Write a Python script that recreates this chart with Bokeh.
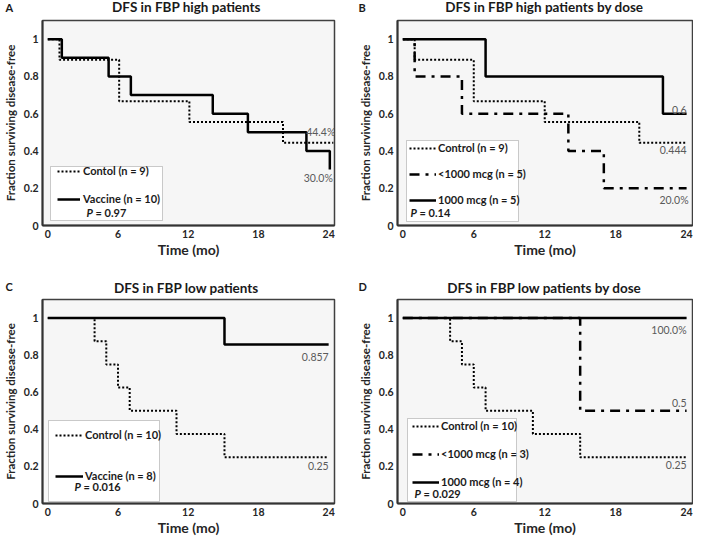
from bokeh.plotting import figure
from bokeh.models import (Range1d, FixedTicker, Label, Legend, LegendItem,
                          BoxAnnotation, CustomJSTickFormatter)
from bokeh.layouts import column, row
from bokeh.embed import file_html
from bokeh.resources import INLINE

FONT = "Lato"

# ---------------- data ----------------
x_ticks = [0, 6, 12, 18, 24]
y_ticks = [0, 0.2, 0.4, 0.6, 0.8, 1.0]

# Panel A: DFS in FBP high patients
A_ctrl_t = [0, 1.0, 6.1, 12.1, 20.1, 24.4]
A_ctrl_s = [1.0, 0.889, 0.667, 0.556, 0.444, 0.444]
A_vac_t = [0, 1.2, 5.2, 7.1, 14.1, 17.1, 22.1, 24.1]
A_vac_s = [1.0, 0.9, 0.8, 0.7, 0.6, 0.5, 0.4, 0.3]

# Panel B: DFS in FBP high patients by dose
B_ctrl_t = [0, 1.0, 6.0, 12.0, 20.0, 24.0]
B_ctrl_s = [1.0, 0.889, 0.667, 0.556, 0.444, 0.444]
B_low_t = [0, 1.0, 5.0, 14.0, 17.0, 24.0]
B_low_s = [1.0, 0.8, 0.6, 0.4, 0.2, 0.2]
B_high_t = [0, 7.0, 22.0, 24.0]
B_high_s = [1.0, 0.8, 0.6, 0.6]

# Panel C: DFS in FBP low patients
C_ctrl_t = [0, 4.0, 5.0, 6.0, 7.0, 11.0, 15.1, 24.0]
C_ctrl_s = [1.0, 0.875, 0.75, 0.625, 0.5, 0.375, 0.25, 0.25]
C_vac_t = [0, 15.1, 24.0]
C_vac_s = [1.0, 0.857, 0.857]

# Panel D: DFS in FBP low patients by dose
D_ctrl_t = [0, 4.0, 5.0, 6.0, 7.0, 11.0, 15.0, 24.0]
D_ctrl_s = [1.0, 0.875, 0.75, 0.625, 0.5, 0.375, 0.25, 0.25]
D_low_t = [0, 15.0, 24.0]
D_low_s = [1.0, 0.5, 0.5]
D_high_t = [0, 24.0]
D_high_s = [1.0, 1.0]

titles = ["DFS in FBP high patients", "DFS in FBP high patients by dose",
          "DFS in FBP low patients", "DFS in FBP low patients by dose"]
letters = ["A", "B", "C", "D"]

# ---------------- styles / layout ----------------
DOT = "2 2"
DASHDOT = "10 6 3 6"
BG = "#f6f6f6"
DARK = "#333333"
GRAY = "#5a5a5a"
TXT = "#1a1a1a"

COL_W = [355, 338]
MB_L = [38, 41]
MB_R = [21, 1]
FW = 296
FH = 205
HEAD_H = [19, 34]
MAIN_H = [243, 242]
MB_T = [1, 3]
MB_B = [37, 34]
TITLE_Y = [13, 9]
LETTER_Y = [12, 10]
LETTER_X = [5, 3]


def make_header(r, c):
    h = figure(width=COL_W[c], height=HEAD_H[r], title=None,
               x_range=Range1d(0, COL_W[c]), y_range=Range1d(0, HEAD_H[r]),
               output_backend="svg", toolbar_location=None,
               x_axis_type=None, y_axis_type=None,
               min_border_left=0, min_border_right=0, min_border_top=0, min_border_bottom=0)
    h.outline_line_color = None
    h.background_fill_color = "white"
    h.border_fill_color = "white"
    h.xgrid.visible = False
    h.ygrid.visible = False
    h.add_layout(Label(x=MB_L[c] + FW / 2, y=TITLE_Y[r], text=titles[2 * r + c],
                       text_font=FONT, text_font_size="13.5px", text_font_style="bold",
                       text_align="center", text_baseline="middle", text_color=TXT))
    h.add_layout(Label(x=LETTER_X[c], y=LETTER_Y[r], text=letters[2 * r + c],
                       text_font=FONT, text_font_size="11px", text_font_style="bold",
                       text_align="left", text_baseline="middle", text_color=TXT))
    return h


def make_panel(r, c):
    p = figure(width=COL_W[c], height=MAIN_H[r], title=None,
               x_range=Range1d(-0.45, 24.5), y_range=Range1d(0, 1.1),
               output_backend="svg", toolbar_location=None,
               min_border_left=MB_L[c], min_border_right=MB_R[c],
               min_border_top=MB_T[r], min_border_bottom=MB_B[r])
    p.background_fill_color = BG
    p.border_fill_color = "white"
    p.outline_line_color = "#404040"
    p.outline_line_width = 1.5
    p.xgrid.visible = False
    p.ygrid.visible = False
    p.xaxis.ticker = FixedTicker(ticks=x_ticks)
    p.yaxis.ticker = FixedTicker(ticks=y_ticks)
    p.yaxis.formatter = CustomJSTickFormatter(code="return String(Math.round(tick*10)/10)")
    for ax in (p.xaxis[0], p.yaxis[0]):
        ax.axis_line_color = DARK
        ax.axis_line_width = 2
        ax.major_tick_line_color = None
        ax.minor_tick_line_color = None
        ax.major_tick_out = 0
        ax.major_tick_in = 0
        ax.major_label_text_font = FONT
        ax.major_label_text_font_size = "10.5px"
        ax.major_label_text_font_style = "bold"
        ax.major_label_text_color = "#262626"
        ax.axis_label_text_font = FONT
        ax.axis_label_text_font_style = "bold"
        ax.axis_label_text_color = "#262626"
    p.xaxis.major_label_standoff = 4
    p.yaxis.major_label_standoff = 4
    p.xaxis.axis_label = "Time (mo)"
    p.xaxis.axis_label_text_font_size = "14px"
    p.xaxis.axis_label_standoff = 0
    p.yaxis.axis_label = "Fraction surviving disease-free"
    p.yaxis.axis_label_text_font_size = "11.5px"
    p.yaxis.axis_label_standoff = 4
    return p


def add_legend(p, items, box, loc, spacing, gw, standoff, pval, pxy):
    left, right, bottom, top = box
    p.add_layout(BoxAnnotation(left=left, right=right, bottom=bottom, top=top,
                               left_units="screen", right_units="screen",
                               bottom_units="screen", top_units="screen",
                               fill_color="white", fill_alpha=1.0,
                               line_color="#555555", line_width=1, level="annotation"))
    leg = Legend(items=[LegendItem(label=lab, renderers=[rr]) for lab, rr in items],
                 location=loc, padding=0, margin=0, spacing=spacing,
                 label_height=12, glyph_height=12, glyph_width=gw,
                 label_standoff=standoff, border_line_color=None,
                 background_fill_alpha=0.0, label_text_font=FONT,
                 label_text_font_size="11px", label_text_font_style="bold",
                 label_text_color=TXT)
    p.add_layout(leg, "center")
    px, py = pxy
    p.add_layout(Label(x=px, y=py, x_units="screen", y_units="screen", text="P",
                       text_font=FONT, text_font_size="11px",
                       text_font_style="bold italic", text_baseline="middle",
                       text_color=TXT))
    p.add_layout(Label(x=px + 9, y=py, x_units="screen", y_units="screen",
                       text="= " + pval, text_font=FONT, text_font_size="11px",
                       text_font_style="bold", text_baseline="middle",
                       text_color=TXT))


def end_label(p, t, s, text, baseline, dx, dy):
    p.add_layout(Label(x=t[-1], y=s[-1], text=text, x_offset=dx, y_offset=dy,
                       text_font=FONT, text_font_size="10.5px", text_align="right",
                       text_baseline=baseline, text_color=GRAY))


# ---------------- Panel A ----------------
pA = make_panel(0, 0)
rA1 = pA.step(A_ctrl_t, A_ctrl_s, mode="after", line_color="black", line_width=2, line_dash=DOT)
rA2 = pA.step(A_vac_t, A_vac_s, mode="after", line_color="black", line_width=2.5)
add_legend(pA, [("Contol (n = 9)", rA1), ("Vaccine (n = 10)", rA2)],
           (8, 120, 5, 59), (15, 20), 15, 23, 3, "0.97", (44, 13))
end_label(pA, A_ctrl_t, A_ctrl_s, "44.4%", "bottom", 2, 5)
end_label(pA, A_vac_t, A_vac_s, "30.0%", "top", 3, -2)

# ---------------- Panel B ----------------
pB = make_panel(0, 1)
rB1 = pB.step(B_ctrl_t, B_ctrl_s, mode="after", line_color="black", line_width=2, line_dash=DOT)
rB2 = pB.step(B_low_t, B_low_s, mode="after", line_color="black", line_width=2.5, line_dash=DASHDOT)
rB3 = pB.step(B_high_t, B_high_s, mode="after", line_color="black", line_width=2.5)
add_legend(pB, [("Control (n = 9)", rB1), ("<1000 mcg (n = 5)", rB2), ("1000 mcg (n = 5)", rB3)],
           (9, 121, 4, 85), (12, 19), 13, 27, 2, "0.14", (13, 13))
end_label(pB, B_high_t, B_high_s, "0.6", "bottom", 0, 0)
end_label(pB, B_ctrl_t, B_ctrl_s, "0.444", "top", 0, -3)
end_label(pB, B_low_t, B_low_s, "20.0%", "top", 2, -6)

# ---------------- Panel C ----------------
pC = make_panel(1, 0)
rC1 = pC.step(C_ctrl_t, C_ctrl_s, mode="after", line_color="black", line_width=2, line_dash=DOT)
rC2 = pC.step(C_vac_t, C_vac_s, mode="after", line_color="black", line_width=2.5)
add_legend(pC, [("Control (n = 10)", rC1), ("Vaccine (n = 8)", rC2)],
           (6, 117, 2, 83), (13, 21), 28, 28, 2, "0.016", (32, 17))
end_label(pC, C_vac_t, C_vac_s, "0.857", "top", 0, -8)
end_label(pC, C_ctrl_t, C_ctrl_s, "0.25", "top", 0, -5)

# ---------------- Panel D ----------------
pD = make_panel(1, 1)
rD1 = pD.step(D_ctrl_t, D_ctrl_s, mode="after", line_color="black", line_width=2, line_dash=DOT)
rD2 = pD.step(D_low_t, D_low_s, mode="after", line_color="black", line_width=2.5, line_dash=DASHDOT)
rD3 = pD.step(D_high_t, D_high_s, mode="after", line_color="black", line_width=2.5)
add_legend(pD, [("Control (n = 10)", rD1), ("<1000 mcg (n = 3)", rD2), ("1000 mcg (n = 4)", rD3)],
           (10, 119, 2, 85), (15, 15), 15, 27, 2, "0.029", (17, 10))
end_label(pD, D_high_t, D_high_s, "100.0%", "top", 0, -6)
end_label(pD, D_low_t, D_low_s, "0.5", "bottom", 0, 4)
end_label(pD, D_ctrl_t, D_ctrl_s, "0.25", "top", 0, -4)

layout = column(
    row(make_header(0, 0), make_header(0, 1)),
    row(pA, pB),
    row(make_header(1, 0), make_header(1, 1)),
    row(pC, pD),
)

with open("out.html", "w") as f:
    f.write(file_html(layout, INLINE))
